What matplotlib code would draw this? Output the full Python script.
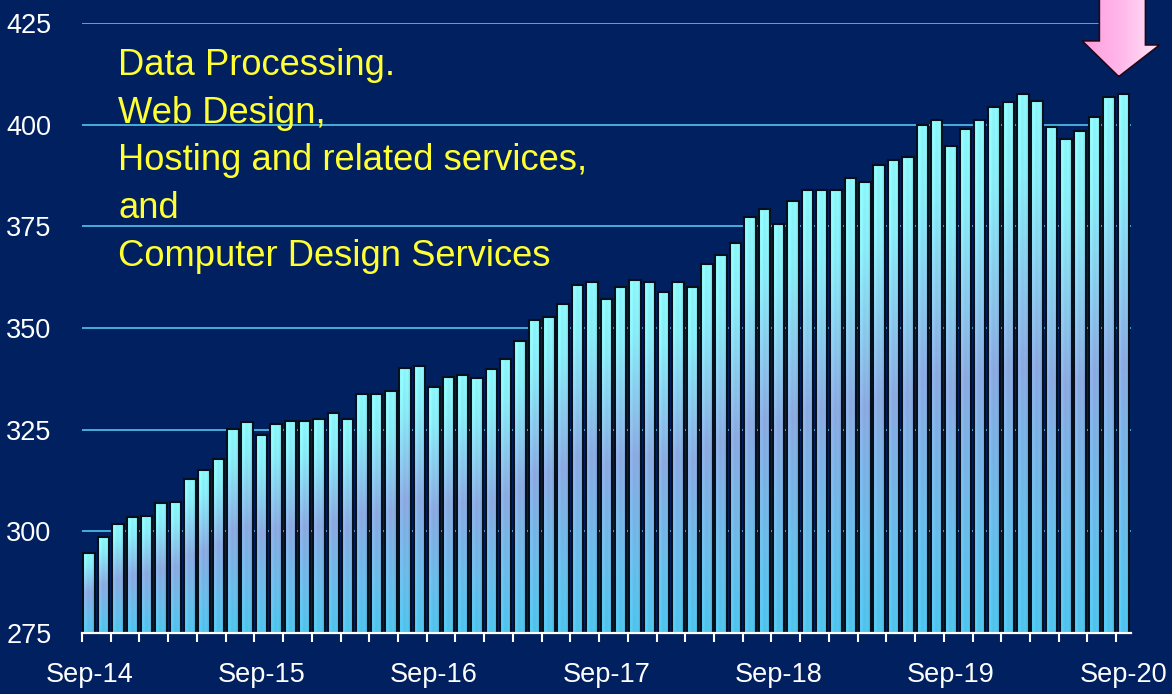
import numpy as np
import matplotlib.pyplot as plt
from matplotlib.colors import LinearSegmentedColormap
from matplotlib.patches import Polygon

# monthly values, Sep-14 .. Sep-20 (thousands of employees)
values = [294.7, 298.7, 301.8, 303.5, 303.8, 306.9, 307.3, 312.9, 315.1, 317.7,
          325.1, 326.8, 323.8, 326.4, 327.2, 327.2, 327.5, 329.2, 327.5, 333.7,
          333.7, 334.5, 340.1, 340.6, 335.5, 338.0, 338.4, 337.6, 339.8, 342.4,
          346.7, 352.0, 352.7, 355.8, 360.6, 361.4, 357.1, 360.1, 361.7, 361.4,
          358.8, 361.4, 360.0, 365.7, 367.9, 370.8, 377.4, 379.2, 375.6, 381.2,
          383.9, 383.9, 383.9, 386.8, 386.0, 390.0, 391.2, 392.0, 399.8, 401.1,
          394.7, 398.9, 401.1, 404.3, 405.5, 407.5, 405.9, 399.4, 396.4, 398.5,
          401.9, 406.7, 407.5]
year_labels = ["Sep-14", "Sep-15", "Sep-16", "Sep-17", "Sep-18", "Sep-19", "Sep-20"]
y_ticks = [275, 300, 325, 350, 375, 400, 425]
caption_lines = ["Data Processing.", "Web Design,", "Hosting and related services,",
                 "and", "Computer Design Services"]

BG = "#002060"
FONT = ["Liberation Sans", "DejaVu Sans"]
ymin, ymax = 275, 425

fig = plt.figure(figsize=(11.72, 6.94), dpi=100, facecolor=BG)
ax = fig.add_axes([0.070, 0.0879, 0.8946, 0.879], facecolor=BG)

x = np.arange(len(values))
w = 0.8
heights = np.array(values) - ymin

# bar gradient: cyan top, lavender middle, cyan-blue bottom
bar_cmap = LinearSegmentedColormap.from_list(
    "bar", [(0.0, "#52c8f2"), (0.2, "#6cc0ee"), (0.5, "#8eaee6"),
            (0.85, "#8cf0fc"), (1.0, "#90fcff")])
vert = bar_cmap(np.linspace(0, 1, 80))[:, :3]
horiz = np.array([1.06, 1.04, 1.0, 0.97, 0.98, 1.0, 0.96, 0.92])
grad = np.clip(vert[:, None, :] * horiz[None, :, None], 0, 1)

ax.bar(x, heights, bottom=ymin, width=w, color="#8cc8f0", linewidth=0, zorder=3)
for xi, v in zip(x, values):
    ax.imshow(grad, extent=(xi - w / 2, xi + w / 2, ymin, v), origin="lower",
              aspect="auto", interpolation="bilinear", zorder=3.2)
ax.bar(x, heights, bottom=ymin, width=w, fill=False, edgecolor="#06101c",
       linewidth=1.5, zorder=3.4)

# pink arrow pointing at the latest month
last = len(values) - 1
tip_x, tip_y = last - 0.32, values[-1] + 4.3
arrow = Polygon([(tip_x, tip_y), (last - 2.87, tip_y + 8.8), (last - 1.67, tip_y + 8.8),
                 (last - 1.67, tip_y + 20), (last + 1.54, tip_y + 20),
                 (last + 1.54, tip_y + 7.8), (last + 2.53, tip_y + 7.8)],
                closed=True, facecolor="none", edgecolor="#200818", linewidth=1.2,
                zorder=6.2, clip_on=False)
ax.add_patch(arrow)
pink = LinearSegmentedColormap.from_list("pink", ["#ff9ede", "#ffb8ea", "#ffe6fa"])
arrow_img = ax.imshow(np.linspace(0, 1, 64)[None, :], cmap=pink,
                      extent=(last - 2.9, last + 2.6, tip_y, tip_y + 20),
                      aspect="auto", interpolation="bilinear", zorder=6)
arrow_img.set_clip_path(arrow)
arrow_img.set_clip_box(fig.bbox)

ax.set_xlim(-0.5, len(values) - 0.5)
ax.set_ylim(ymin, ymax)

# grid and axes
ax.set_yticks(y_ticks)
ax.set_yticklabels([str(t) for t in y_ticks], family=FONT, fontsize=19.5, color="white")
ax.yaxis.grid(True, color="#5ad4fc", linewidth=1.1, zorder=1)
ax.set_axisbelow(True)
ax.tick_params(axis="y", length=0, pad=22)

ax.set_xticks(np.arange(-0.5, len(values) - 1, 2))
ax.set_xticklabels([])
ax.set_xticks(np.arange(0, len(values), 12), minor=True)
ax.set_xticklabels(year_labels, minor=True, family=FONT, fontsize=19.5, color="white")
ax.tick_params(axis="x", which="major", length=6.5, width=1.5, color="white", direction="out")
ax.tick_params(axis="x", which="minor", length=0, pad=21)

for side in ["left", "right", "top"]:
    ax.spines[side].set_visible(False)
ax.spines["bottom"].set_color("white")
ax.spines["bottom"].set_linewidth(1.6)
ax.spines["bottom"].set_zorder(5)

# caption text
for i, line in enumerate(caption_lines):
    ax.text(0.0343, 0.9148 - i * 0.0782, line, transform=ax.transAxes,
            family=FONT, fontsize=26.2, color="#ffff33", va="baseline", ha="left",
            zorder=7)

fig.savefig("out.png", dpi=100, facecolor=BG)
